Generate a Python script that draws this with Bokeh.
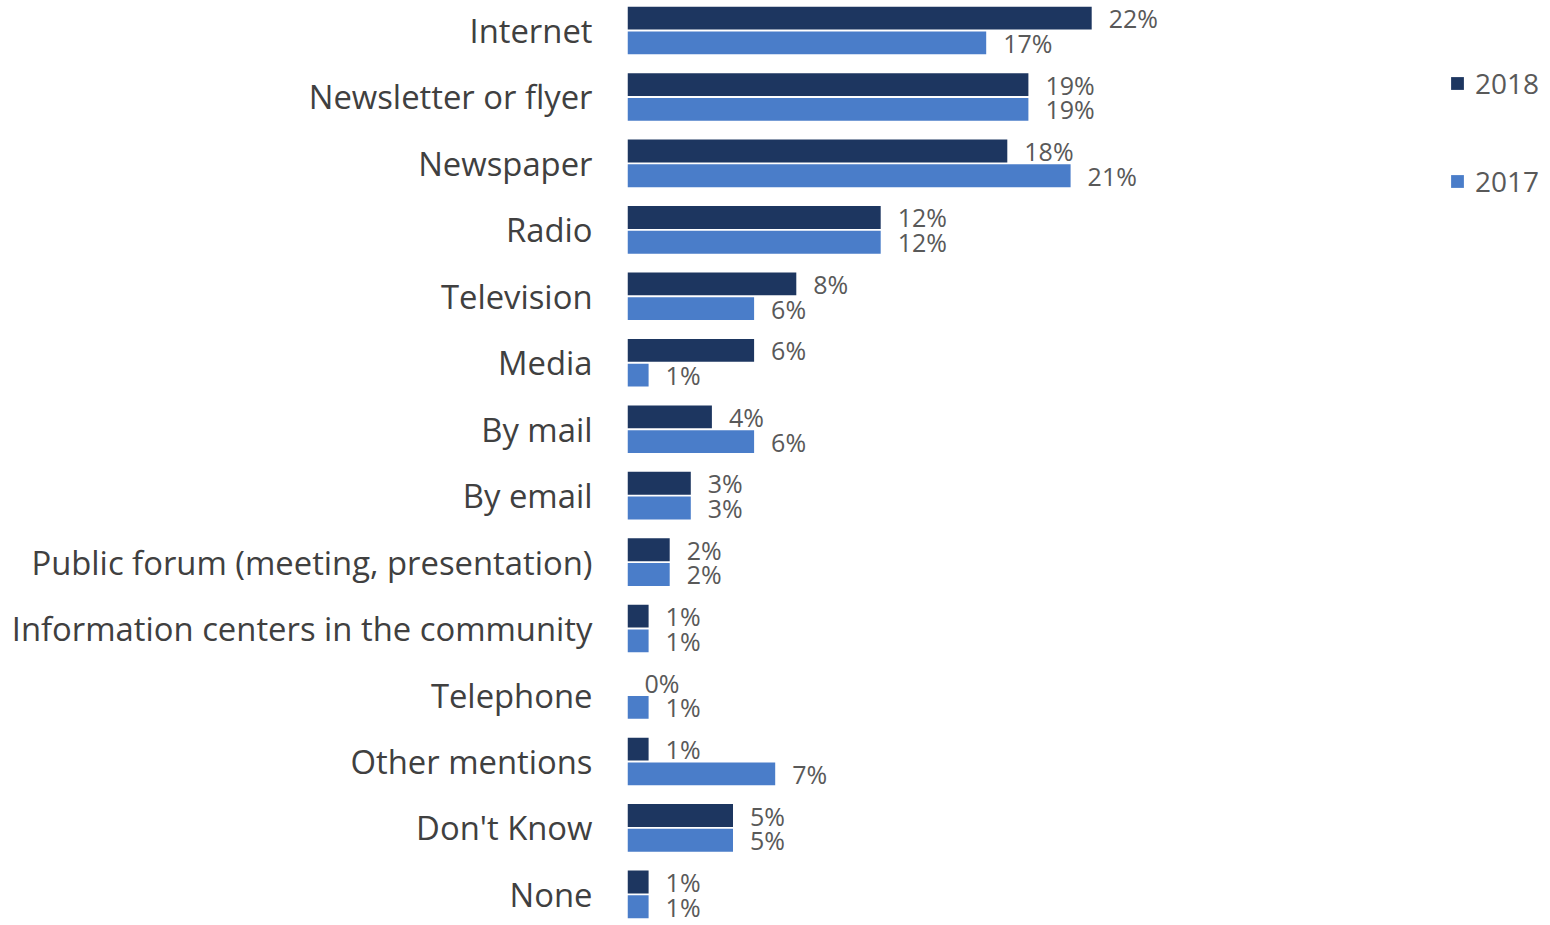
from bokeh.plotting import figure
from bokeh.models import Range1d, FixedTicker, ColumnDataSource, Legend, LegendItem, LabelSet
from bokeh.transform import dodge
from bokeh.core.properties import value
from bokeh.embed import file_html
from bokeh.resources import INLINE

categories = ["Internet", "Newsletter or flyer", "Newspaper", "Radio", "Television",
              "Media", "By mail", "By email", "Public forum (meeting, presentation)",
              "Information centers in the community", "Telephone", "Other mentions",
              "Don't Know", "None"]
v2018 = [22, 19, 18, 12, 8, 6, 4, 3, 2, 1, 0, 1, 5, 1]
v2017 = [17, 19, 21, 12, 6, 1, 6, 3, 2, 1, 1, 7, 5, 1]
series_names = ["2018", "2017"]

C18 = "#1d3660"
C17 = "#4a7dc9"
FONT = "Open Sans"

pos = list(range(len(categories)))
src = ColumnDataSource(dict(
    y=pos, v18=v2018, v17=v2017,
    l18=[f"{v}%" for v in v2018], l17=[f"{v}%" for v in v2017],
))

W, H = 1550, 925
left = 627
scale = 21.1
pitch = 66.45
y0 = 30.0

p = figure(width=W, height=H, output_backend="svg", toolbar_location=None,
           x_range=Range1d(0, (W - left) / scale),
           y_range=Range1d((H - y0) / pitch, -y0 / pitch),
           min_border_left=left, min_border_right=0, min_border_top=0, min_border_bottom=0)
p.outline_line_color = None
p.xgrid.visible = False
p.ygrid.visible = False
p.xaxis.visible = False

ax = p.yaxis[0]
ax.ticker = FixedTicker(ticks=pos)
ax.major_label_overrides = {i: c for i, c in enumerate(categories)}
ax.axis_line_color = None
ax.major_tick_line_color = None
ax.major_tick_in = 0
ax.major_tick_out = 0
ax.minor_tick_line_color = None
ax.major_label_standoff = 35
ax.major_label_text_font = FONT
ax.major_label_text_font_size = "32.8px"
ax.major_label_text_color = "#404040"

off = 0.186
h = 0.344
r18 = p.hbar(y=dodge("y", -off, range=p.y_range), right="v18", left=0, height=h,
             source=src, fill_color=C18, line_color=None)
r17 = p.hbar(y=dodge("y", off, range=p.y_range), right="v17", left=0, height=h,
             source=src, fill_color=C17, line_color=None)

for col, lab, o in (("v18", "l18", -off), ("v17", "l17", off)):
    p.add_layout(LabelSet(x=col, y=dodge("y", o, range=p.y_range), text=lab, source=src,
                          x_offset=17, text_align="left", text_baseline="middle",
                          text_font=value(FONT), text_font_size=value("25px"),
                          text_color=value("#595959")))

legend = Legend(items=[LegendItem(label=series_names[0], renderers=[r18]),
                       LegendItem(label=series_names[1], renderers=[r17])],
                location=(822, 725), orientation="vertical",
                glyph_width=16, glyph_height=16, label_standoff=10,
                label_text_font=FONT, label_text_font_size="28px",
                label_text_color="#595959", spacing=60, padding=0,
                border_line_color=None, background_fill_alpha=0)
p.add_layout(legend)

open("out.html", "w").write(file_html(p, INLINE))
